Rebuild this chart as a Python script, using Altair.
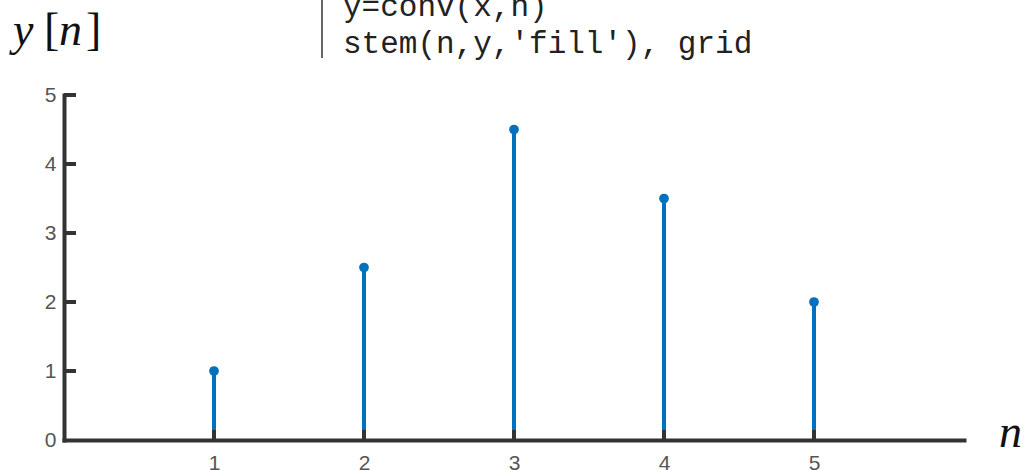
import altair as alt
import pandas as pd

n_vals = [1, 2, 3, 4, 5]
y_vals = [1, 2.5, 4.5, 3.5, 2]
x_ticks = [1, 2, 3, 4, 5]
y_ticks = [0, 1, 2, 3, 4, 5]
code_lines = ["y=conv(x,h)", "stem(n,y,'fill'), grid"]

W, H = 900, 345
BLUE = "#0072BD"
DARK = "#333333"

df = pd.DataFrame({"n": n_vals, "y": y_vals})
ytick_df = pd.DataFrame({"y": y_ticks[1:]})

xscale = alt.Scale(domain=[0, 6], nice=False, zero=False)
yscale = alt.Scale(domain=[0, 5], nice=False)

base = alt.Chart(df)

stems = base.mark_rule(color=BLUE, strokeWidth=4).encode(
    x=alt.X("n:Q", scale=xscale,
            axis=alt.Axis(values=x_ticks, format="d", title=None, labelPadding=12,
                          labelFontSize=21)),
    y=alt.Y("y:Q", scale=yscale,
            axis=alt.Axis(values=y_ticks, format="d", title=None, labelPadding=8,
                          labelFontSize=21)),
    y2=alt.datum(0),
)

dots = base.mark_circle(color=BLUE, size=95, opacity=1).encode(
    x=alt.X("n:Q", scale=xscale, title=None),
    y=alt.Y("y:Q", scale=yscale, title=None),
)

xt = base.mark_rule(color=DARK, strokeWidth=4).encode(
    x=alt.X("n:Q", scale=xscale, title=None),
    y=alt.value(H),
    y2=alt.value(H - 10),
)

yt = alt.Chart(ytick_df).mark_rule(color=DARK, strokeWidth=4).encode(
    y=alt.Y("y:Q", scale=yscale, title=None),
    x=alt.value(0),
    x2=alt.value(12),
)


def txt(s, x, y, font, size, style="normal", color="#111111"):
    return alt.Chart(pd.DataFrame({"s": [s]})).mark_text(
        font=font, fontStyle=style, fontSize=size,
        align="left", baseline="alphabetic", color=color
    ).encode(x=alt.value(x - 64), y=alt.value(y - 95), text="s:N")


lab_y = txt("y", 13, 45, "Liberation Serif", 46, "italic")
lab_lb = txt("[", 44, 45, "Liberation Serif", 46)
lab_n = txt("n", 59, 45, "Liberation Serif", 46, "italic")
lab_rb = txt("]", 86, 45, "Liberation Serif", 46)

xlabel = txt("n", 999, 447, "Liberation Serif", 46, "italic")

code1 = txt(code_lines[0], 343, 16, "Liberation Mono", 31, color="#222222")
code2 = txt(code_lines[1], 343, 53, "Liberation Mono", 31, color="#222222")

bar = alt.Chart(pd.DataFrame({"s": [0]})).mark_rule(color="#666666", strokeWidth=2).encode(
    x=alt.value(322 - 64), y=alt.value(0 - 95), y2=alt.value(58 - 95)
)

chart = alt.layer(
    stems, xt, dots, yt, lab_y, lab_lb, lab_n, lab_rb, xlabel, code1, code2, bar
).properties(
    width=W, height=H,
    background="white",
    autosize=alt.AutoSizeParams(type="none"),
    padding={"left": 64, "top": 95, "right": 65, "bottom": 30},
).configure_view(
    stroke=None
).configure_axis(
    grid=False, tickSize=0, labelFontSize=21, labelColor="#555555",
    labelFont="Liberation Sans", domainWidth=4, domainColor=DARK,
    domainCap="square",
)

chart.save("out.html", embed_options={"renderer": "svg", "actions": False})
